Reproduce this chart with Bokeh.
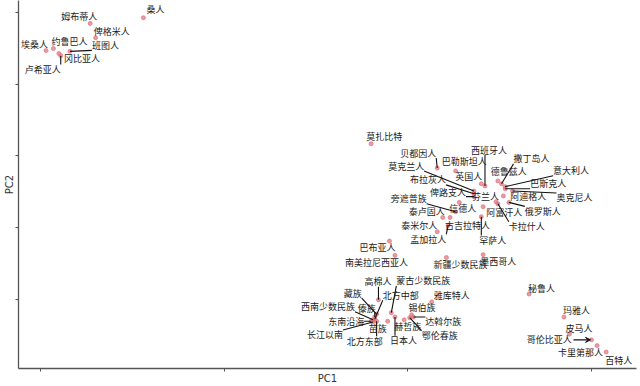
from bokeh.plotting import figure
from bokeh.models import Range1d, FixedTicker, ColumnDataSource, Arrow, VeeHead
from bokeh.core.properties import value
from bokeh.embed import file_html
from bokeh.resources import INLINE

# ---- data (PC scores) ----
names = ["桑人", "姆布蒂人", "俾格米人", "埃桑人", "约鲁巴人", "班图人", "冈比亚人", "卢希亚人",
         "莫扎比特", "贝都因人", "巴勒斯坦人", "莫克兰人", "布拉灰人", "英国人", "西班牙人", "撒丁岛人",
         "德鲁兹人", "意大利人", "巴斯克人", "奥克尼人", "阿迪格人", "芬兰人", "俾路支人", "旁遮普族",
         "信德人", "泰卢固人", "泰米尔人", "古吉拉特人", "孟加拉人", "罕萨人", "阿富汗人", "卡拉什人",
         "俄罗斯人", "巴布亚人", "南美拉尼西亚人", "新疆少数民族", "墨西哥人", "秘鲁人", "玛雅人", "皮马人",
         "哥伦比亚人", "卡里第那人", "百特人", "高棉人", "蒙古少数民族", "北方中部", "雅库特人", "藏族",
         "西南少数民族", "傣族", "东南沿海", "长江以南", "北方东部", "苗族", "赫哲族", "日本人",
         "锡伯族", "达斡尔族", "鄂伦春族"]
pc1 = [-0.44, -0.73, -0.70, -0.97, -0.93, -0.84, -0.90, -0.89,
       0.80, 1.16, 1.26, 1.36, 1.36, 1.40, 1.42, 1.51,
       1.49, 1.53, 1.53, 1.57, 1.52, 1.48, 1.36, 1.26,
       1.28, 1.19, 1.16, 1.23, 1.22, 1.40, 1.41, 1.49,
       1.55, 0.90, 0.93, 1.21, 1.41, 1.66, 1.85, 1.88,
       2.00, 2.03, 2.08, 0.84, 0.91, 0.82, 1.13, 0.83,
       0.81, 0.82, 0.80, 0.81, 0.83, 0.89, 0.98, 0.93,
       1.02, 1.03, 1.01]
pc2 = [2.93, 2.85, 2.65, 2.47, 2.50, 2.46, 2.43, 2.40,
       1.17, 0.83, 0.79, 0.51, 0.47, 0.61, 0.58, 0.61,
       0.65, 0.57, 0.54, 0.51, 0.44, 0.36, 0.43, 0.22,
       0.35, 0.14, -0.06, 0.14, 0.03, 0.15, 0.29, 0.33,
       0.35, -0.19, -0.39, -0.42, -0.38, -0.93, -1.25, -1.49,
       -1.57, -1.65, -1.74, -1.01, -1.19, -1.28, -1.04, -1.21,
       -1.29, -1.25, -1.31, -1.32, -1.31, -1.31, -1.29, -1.25,
       -1.22, -1.25, -1.26]
x_ticks = [-1, 0, 1, 2]
y_ticks = [-1, 0, 1, 2, 3]

# ---- label placement (screen-pixel offsets of each label from its point) ----
label_dx = [3, -29, -2, -25, -2, 22, 5, -36,
            -5, -37, -14, -86, -64, -26, -14, 12,
            -7, 48, 25, 44, 7, -24, -44, -65,
            -10, -34, -36, -5, -38, -2, 3, 11,
            16, -30, -50, -13, -3, -1, -1, -4,
            -65, -39, -1, -14, 5, 8, 2, -33,
            -72, -17, -43, -66, -30, -19, -10, -5,
            -3, 12, 12]
label_dy = [-8, -7, -6, -6, -7, -6, 5, 14,
            -7, -15, -9, -25, -14, -7, -36, -25,
            -9, -16, -5, 7, 1, -5, -4, -13,
            6, -6, -6, 8, 14, 24, 6, 23,
            9, 6, 7, 7, 7, -6, -6, -6,
            0, 7, 9, -18, -32, -24, -6, -21,
            -13, -9, 0, 13, 20, 7, 7, 24,
            -7, 5, 18]
# 0 = no leader, 1 = line, 2 = arrow
leader = [0, 0, 0, 0, 0, 1, 0, 1,
          0, 1, 0, 1, 1, 0, 1, 1,
          0, 1, 1, 1, 0, 0, 1, 1,
          0, 0, 0, 0, 1, 1, 0, 1,
          1, 0, 0, 0, 0, 0, 0, 0,
          2, 0, 0, 1, 1, 1, 0, 1,
          1, 1, 1, 1, 1, 0, 0, 1,
          0, 1, 1]

PX_X = 184.0   # pixels per PC1 unit
PX_Y = 72.0    # pixels per PC2 unit
CHAR_W = 9.0
HALF_H = 5.0

lx = [x + dx / PX_X for x, dx in zip(pc1, label_dx)]
ly = [y - dy / PX_Y for y, dy in zip(pc2, label_dy)]

seg = dict(x0=[], y0=[], x1=[], y1=[])
arrows = []
for i, n in enumerate(names):
    if not leader[i]:
        continue
    bx0 = lx[i]
    bx1 = lx[i] + len(n) * CHAR_W / PX_X
    by0 = ly[i] - HALF_H / PX_Y
    by1 = ly[i] + HALF_H / PX_Y
    ex = min(max(pc1[i], bx0), bx1)
    ey = min(max(pc2[i], by0), by1)
    if leader[i] == 1:
        seg["x0"].append(pc1[i]); seg["y0"].append(pc2[i])
        seg["x1"].append(ex); seg["y1"].append(ey)
    else:
        arrows.append((ex + 2 / PX_X, ey, pc1[i] - 1 / PX_X, pc2[i]))

p = figure(width=640, height=386, output_backend="svg", toolbar_location=None,
           title=None,
           x_range=Range1d(-1.12, 2.245), y_range=Range1d(-1.97, 3.17),
           min_border=0, min_border_left=0, min_border_right=4, min_border_top=0,
           min_border_bottom=0,
           background_fill_color="white", border_fill_color="white")
p.outline_line_color = None
p.grid.grid_line_color = None

src = ColumnDataSource(dict(x=pc1, y=pc2, lx=lx, ly=ly, name=names))
p.scatter("x", "y", source=src, size=4, fill_color="#e0707a", line_color="#e0707a",
          fill_alpha=0.7, line_alpha=0.7)
p.segment("x0", "y0", "x1", "y1", source=ColumnDataSource(seg), line_color="#111111",
          line_width=1.1)
for (xs, ys, xe, ye) in arrows:
    p.add_layout(Arrow(x_start=xs, y_start=ys, x_end=xe, y_end=ye, line_color="#111111",
                       line_width=1.1,
                       end=VeeHead(size=5, line_color="#111111", fill_color="#111111",
                                   line_width=1)))
p.text("lx", "ly", text="name", source=src, text_align="left", text_baseline="middle",
       text_font=value("Noto Sans CJK SC"), text_font_size="9px", text_color="#1a1a1a")

for ax, ticks, lab in ((p.xaxis, x_ticks, "PC1"), (p.yaxis, y_ticks, "PC2")):
    ax.ticker = FixedTicker(ticks=ticks)
    ax.major_label_overrides = {t: "" for t in ticks}
    ax.major_label_text_font_size = "1px"
    ax.major_label_standoff = 0
    ax.minor_tick_line_color = None
    ax.major_tick_in = 0
    ax.major_tick_out = 3
    ax.major_tick_line_color = "#555555"
    ax.axis_line_color = "#555555"
    ax.axis_line_width = 1.3
    ax.axis_label = lab
    ax.axis_label_text_font = "DejaVu Sans"
    ax.axis_label_text_font_size = "10px"
    ax.axis_label_text_font_style = "normal"
    ax.axis_label_text_color = "#333333"
    ax.axis_label_standoff = 1

open("out.html", "w").write(file_html(p, INLINE))
